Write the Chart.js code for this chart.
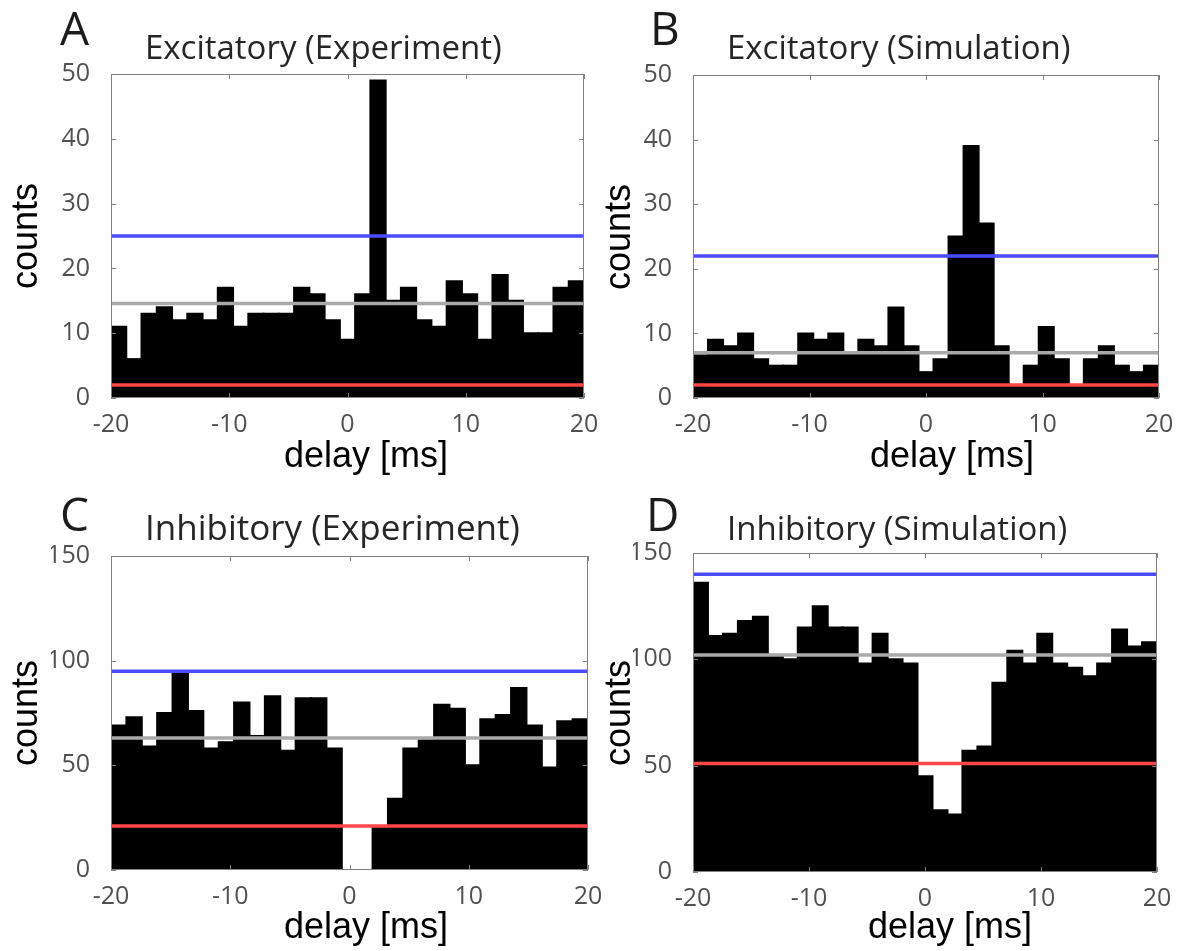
<!DOCTYPE html>
<html>
<head>
<meta charset="utf-8">
<title>Cross-correlograms</title>
<script src="https://cdn.jsdelivr.net/npm/chart.js@4.4.1/dist/chart.umd.min.js"></script>
<style>
  html, body { margin: 0; padding: 0; background: #fff; }
  #wrap { position: relative; width: 1180px; height: 951px; }
  #wrap canvas { position: absolute; left: 0; top: 0; }
</style>
</head>
<body>
<div id="wrap">
  <canvas id="cA" width="1180" height="951"></canvas>
  <canvas id="cB" width="1180" height="951"></canvas>
  <canvas id="cC" width="1180" height="951"></canvas>
  <canvas id="cD" width="1180" height="951"></canvas>
</div>
<script>
// counts per delay bin, 31 bins between -20 and 20 ms
const excExpCounts = [11, 6, 13, 14, 12, 13, 12, 17, 11, 13, 13, 13, 17, 16, 12, 9,
  16, 49, 15, 17, 12, 11, 18, 16, 9, 19, 15, 10, 10, 17, 18];
const excSimCounts = [6.6, 9, 8, 10, 6, 5, 5, 10, 9, 10, 7, 9, 8, 14, 8, 4,
  6, 25, 39, 27, 8, 2, 5, 11, 6, 2, 6, 8, 5, 4, 5];
const inhExpCounts = [69, 73, 59, 75, 94, 76, 58, 61, 80, 64, 83, 57, 82, 82, 58, 0,
  0, 20, 34, 58, 62, 79, 77, 50, 72, 74, 87, 69, 49, 71, 72];
const inhSimCounts = [136, 111, 112, 118, 120, 102, 100, 115, 125, 115, 115, 98, 112, 100, 98, 45,
  29, 27, 57, 59, 89, 104, 98, 112, 98, 96, 92, 98, 114, 106, 108];

// threshold lines: [upper, mean, lower]
const excExpLevels = [25, 14.6, 2];
const excSimLevels = [22, 7, 2];
const inhExpLevels = [95, 63, 21];
const inhSimLevels = [140, 102, 51];

const xTicks = [-20, -10, 0, 10, 20];
const yTicksExc = [0, 10, 20, 30, 40, 50];
const yTicksInh = [0, 50, 100, 150];

const xMin = -20, xMax = 20;
const binWidth = (xMax - xMin) / excExpCounts.length;
const delays = excExpCounts.map((_, i) => xMin + (i + 0.5) * binWidth);

const levelColors = ['#4b4bff', '#a9a9a9', '#ff4747'];
const tickFont = { family: '"Open Sans"', size: 25 };
const tickColor = '#505050';
const frameColor = '#808080';
const Y_AXIS_W = 60, X_AXIS_H = 40;

// box around the plot with inward ticks, MATLAB style
const frame = {
  id: 'frame',
  afterDatasetsDraw(chart) {
    const { ctx, chartArea: a, scales } = chart;
    ctx.save();
    ctx.strokeStyle = frameColor;
    ctx.lineWidth = 1;
    ctx.strokeRect(a.left + 0.5, a.top + 0.5, a.width - 1, a.height - 1);
    ctx.beginPath();
    scales.x.ticks.forEach(t => {
      const px = Math.round(scales.x.getPixelForValue(t.value)) + 0.5;
      ctx.moveTo(px, a.bottom); ctx.lineTo(px, a.bottom - 5);
      ctx.moveTo(px, a.top); ctx.lineTo(px, a.top + 5);
    });
    scales.y.ticks.forEach(t => {
      const py = Math.round(scales.y.getPixelForValue(t.value)) + 0.5;
      ctx.moveTo(a.left, py); ctx.lineTo(a.left + 5, py);
      ctx.moveTo(a.right, py); ctx.lineTo(a.right - 5, py);
    });
    ctx.stroke();
    ctx.restore();
  }
};

// panel letter, title and axis labels
const panelText = {
  id: 'panelText',
  afterDraw(chart, args, o) {
    const ctx = chart.ctx;
    ctx.save();
    ctx.textBaseline = 'alphabetic';
    ctx.textAlign = 'left';
    ctx.fillStyle = '#1c1c1c';
    ctx.font = '46px "Open Sans"';
    ctx.fillText(o.letter, o.letterAt[0], o.letterAt[1]);
    ctx.fillStyle = '#262626';
    ctx.font = o.titleSize + 'px "Open Sans"';
    ctx.fillText(o.title, o.titleAt[0], o.titleAt[1]);
    ctx.fillStyle = '#000';
    ctx.font = '36px "Liberation Sans"';
    ctx.textAlign = 'center';
    ctx.fillText('delay [ms]', o.xLabelAt[0], o.xLabelAt[1]);
    ctx.translate(o.yLabelAt[0], o.yLabelAt[1]);
    ctx.rotate(-Math.PI / 2);
    ctx.textBaseline = 'middle';
    ctx.fillText('counts', 0, 0);
    ctx.restore();
  }
};

function makePanel(id, counts, levels, yTicks, area, text) {
  const yMax = yTicks[yTicks.length - 1];
  const datasets = levels.map((v, i) => ({
    type: 'line',
    data: [{ x: xMin, y: v }, { x: xMax, y: v }],
    borderColor: levelColors[i],
    borderWidth: 3.5,
    pointRadius: 0,
    order: 0
  }));
  datasets.push({
    type: 'bar',
    data: counts.map((c, i) => ({ x: delays[i], y: c })),
    backgroundColor: '#000',
    borderWidth: 0,
    inflateAmount: 1,
    barPercentage: 1,
    categoryPercentage: 1,
    order: 1
  });

  new Chart(document.getElementById(id), {
    type: 'bar',
    data: { datasets },
    plugins: [frame, panelText],
    options: {
      responsive: false,
      animation: false,
      events: [],
      layout: {
        padding: {
          left: area.l - Y_AXIS_W,
          top: area.t,
          right: 1180 - area.r,
          bottom: 951 - area.b - X_AXIS_H
        }
      },
      plugins: {
        legend: { display: false },
        tooltip: { enabled: false },
        panelText: text
      },
      scales: {
        x: {
          type: 'linear',
          min: xMin,
          max: xMax,
          offset: false,
          afterBuildTicks: s => { s.ticks = xTicks.map(v => ({ value: v })); },
          afterFit: s => { s.height = X_AXIS_H; },
          grid: { display: false },
          border: { display: false },
          ticks: { font: tickFont, color: tickColor, padding: 4, maxRotation: 0, autoSkip: false }
        },
        y: {
          min: 0,
          max: yMax,
          afterBuildTicks: s => { s.ticks = yTicks.map(v => ({ value: v })); },
          afterFit: s => { s.width = Y_AXIS_W; },
          grid: { display: false },
          border: { display: false },
          ticks: { font: tickFont, color: tickColor, padding: 13, autoSkip: false }
        }
      }
    }
  });
}

makePanel('cA', excExpCounts, excExpLevels, yTicksExc,
  { l: 111, r: 584, t: 74, b: 398 },
  { letter: 'A', letterAt: [60, 45], title: 'Excitatory (Experiment)', titleSize: 33, titleAt: [145, 59],
    xLabelAt: [366, 467], yLabelAt: [27, 236] });
makePanel('cB', excSimCounts, excSimLevels, yTicksExc,
  { l: 693, r: 1159, t: 75, b: 398 },
  { letter: 'B', letterAt: [650, 45], title: 'Excitatory (Simulation)', titleSize: 33, titleAt: [727, 59],
    xLabelAt: [952, 467], yLabelAt: [620, 237] });
makePanel('cC', inhExpCounts, inhExpLevels, yTicksInh,
  { l: 111, r: 588, t: 556, b: 870 },
  { letter: 'C', letterAt: [60, 531], title: 'Inhibitory (Experiment)', titleSize: 35, titleAt: [145, 540],
    xLabelAt: [366, 938], yLabelAt: [27, 713] });
makePanel('cD', inhSimCounts, inhSimLevels, yTicksInh,
  { l: 693, r: 1157, t: 553, b: 872 },
  { letter: 'D', letterAt: [646, 531], title: 'Inhibitory (Simulation)', titleSize: 33, titleAt: [727, 540],
    xLabelAt: [950, 938], yLabelAt: [620, 713] });
</script>
</body>
</html>
